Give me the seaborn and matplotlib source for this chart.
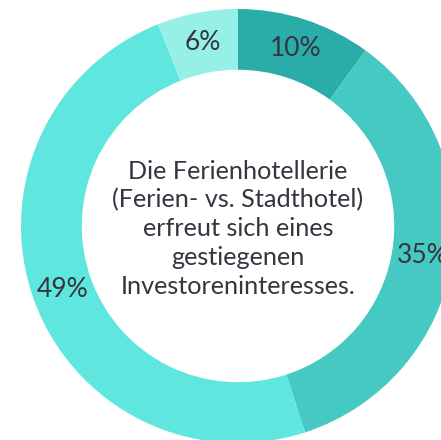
import matplotlib
matplotlib.use('Agg')
import matplotlib.pyplot as plt
import seaborn as sns

# ── Data ───────────────────────────────────────────────────────────────────────
shares = [10, 35, 49, 6]
labels = ['10%', '35%', '49%', '6%']
colors = ['#2aaca9', '#45c9c2', '#5fe6df', '#96f0e6']
center_text = ('Die Ferienhotellerie\n(Ferien- vs. Stadthotel)\n'
               'erfreut sich eines\ngestiegenen\nInvestoreninteresses.')

sns.set_theme(style='white')
plt.rcParams['font.family'] = ['Lato', 'DejaVu Sans']
TEXT = '#35353f'

fig = plt.figure(figsize=(4.41, 4.40), dpi=100)
ax = fig.add_axes([0, 0, 1, 1])

wedges, texts = ax.pie(shares, colors=colors, startangle=90, counterclock=False,
                       radius=1.0, labels=labels, labeldistance=0.86,
                       wedgeprops=dict(width=0.28, edgecolor='none'),
                       textprops=dict(fontsize=19, color=TEXT, ha='center', va='center'))
for t in texts:
    t.set_ha('center')
    t.set_va('center')

ax.text(0, -0.012, center_text, ha='center', va='center', fontsize=18.2,
        color=TEXT, linespacing=1.3)

ax.set_xlim(-238 / 217, 203 / 217)
ax.set_ylim(-214 / 217, 226 / 217)
ax.set_aspect('equal')
ax.axis('off')

fig.savefig('out.png', dpi=100)
